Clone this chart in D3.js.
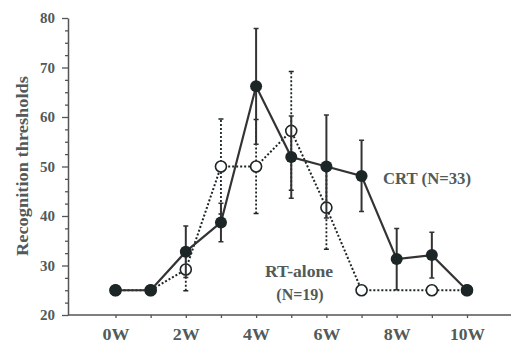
<!DOCTYPE html>
<html><head><meta charset="utf-8">
<script src="https://cdn.jsdelivr.net/npm/d3@7"></script>
<style>body{margin:0;background:#fff}svg{display:block}</style>
</head><body>
<svg id="c" width="511" height="343"></svg>
<script>
const weeks = [0,1,2,3,4,5,6,7,8,9,10];
const crtMean = [25,25,32.8,38.7,66.2,51.9,50.0,48.1,31.3,32.1,25];
const crtErr  = [0,0,5.2,3.9,11.7,8.3,10.4,7.2,6.2,4.6,0];
const rtMean  = [25,25,29.2,50,50,57.2,41.7,25,null,25,25];
const rtErr   = [0,0,4.3,9.6,9.5,12.0,8.4,0,0,0,0];
const xTickVals = [0,2,4,6,8,10];
const xTickLabels = ["0W","2W","4W","6W","8W","10W"];
const yTickVals = [20,30,40,50,60,70,80];

const svg = d3.select("#c");
const x = d3.scaleLinear().domain([0,10]).range([115.5,467]);
const y = d3.scaleLinear().domain([20,80]).range([315,18]);
const axisX0 = 68;
const txt = "#525a5a", ax = "#555", ink = "#1c2626";
const font = "'Liberation Serif','Times New Roman',serif";

// axes
const yAxis = svg.append("g").attr("transform",`translate(${axisX0},0)`)
  .call(d3.axisLeft(y).tickValues(yTickVals).tickSize(6).tickSizeOuter(0).tickPadding(7).tickFormat(d3.format("d")));
svg.append("g").attr("transform",`translate(${axisX0},0)`)
  .call(d3.axisLeft(y).tickValues(d3.range(20,80.01,2.5).filter(v=>v%10!==0)).tickSize(3).tickSizeOuter(0).tickFormat(""))
  .select(".domain").remove();
svg.append("line").attr("x1",axisX0).attr("x2",511).attr("y1",y(20)).attr("y2",y(20)).attr("stroke",ax).attr("stroke-width",1.5);
svg.append("g").attr("transform",`translate(0,${y(20)})`)
  .call(d3.axisBottom(x).tickValues(weeks).tickSize(3).tickSizeOuter(0).tickFormat(""))
  .select(".domain").remove();
const xLab = svg.append("g").attr("transform",`translate(0,${y(20)})`)
  .call(d3.axisBottom(x).tickValues(xTickVals).tickSize(0).tickPadding(14).tickFormat((d,i)=>xTickLabels[i]));
xLab.select(".domain").remove();
svg.selectAll(".tick line").attr("stroke",ax).attr("stroke-width",1.3);
yAxis.select(".domain").attr("stroke",ax).attr("stroke-width",1.5);
svg.selectAll(".tick text").attr("fill",txt).attr("font-family",font).attr("font-weight","bold").attr("font-size",15);
xLab.selectAll(".tick text").attr("font-size",16)
  .attr("textLength",(d,i)=>xTickLabels[i].length>2?35:27).attr("lengthAdjust","spacingAndGlyphs");

svg.append("text").attr("transform",`translate(22,166) rotate(-90)`).attr("text-anchor","middle")
  .attr("dominant-baseline","central")
  .attr("fill",txt).attr("font-family",font).attr("font-weight","bold").attr("font-size",16)
  .attr("textLength",180).attr("lengthAdjust","spacingAndGlyphs")
  .text("Recognition thresholds");

// RT-alone series (dotted)
const rtPts = weeks.map((w,i)=>({w,m:rtMean[i],e:rtErr[i]}));
const rtDef = rtPts.filter(d=>d.m!==null);
svg.append("g").selectAll("line").data(rtDef.filter(d=>d.e>0)).join("line")
  .attr("x1",d=>x(d.w)).attr("x2",d=>x(d.w)).attr("y1",d=>y(d.m-d.e)).attr("y2",d=>y(d.m+d.e))
  .attr("stroke",ink).attr("stroke-width",1.8).attr("stroke-dasharray","2,2");
svg.append("g").selectAll("path").data(rtDef.filter(d=>d.e>0)).join("path")
  .attr("d",d=>`M${x(d.w)-2.5},${y(d.m+d.e)}h5M${x(d.w)-2.5},${y(d.m-d.e)}h5`)
  .attr("stroke",ink).attr("stroke-width",1.5);
svg.append("path").datum(rtDef)
  .attr("d",d3.line().x(d=>x(d.w)).y(d=>y(d.m)))
  .attr("fill","none").attr("stroke",ink).attr("stroke-width",2).attr("stroke-dasharray","2,2");
svg.append("g").selectAll("circle").data(rtDef).join("circle")
  .attr("cx",d=>x(d.w)).attr("cy",d=>y(d.m)).attr("r",5.5)
  .attr("fill","#fff").attr("stroke",ink).attr("stroke-width",1.6);

// CRT series (solid)
const crtPts = weeks.map((w,i)=>({w,m:crtMean[i],e:crtErr[i]}));
svg.append("g").selectAll("line").data(crtPts.filter(d=>d.e>0)).join("line")
  .attr("x1",d=>x(d.w)).attr("x2",d=>x(d.w)).attr("y1",d=>y(d.m-d.e)).attr("y2",d=>y(d.m+d.e))
  .attr("stroke","#333").attr("stroke-width",2);
svg.append("g").selectAll("path").data(crtPts.filter(d=>d.e>0)).join("path")
  .attr("d",d=>`M${x(d.w)-2.5},${y(d.m+d.e)}h5M${x(d.w)-2.5},${y(d.m-d.e)}h5`)
  .attr("stroke","#333").attr("stroke-width",1.5);
svg.append("path").datum(crtPts)
  .attr("d",d3.line().x(d=>x(d.w)).y(d=>y(d.m)))
  .attr("fill","none").attr("stroke","#333").attr("stroke-width",2.2);
svg.append("g").selectAll("circle").data(crtPts).join("circle")
  .attr("cx",d=>x(d.w)).attr("cy",d=>y(d.m)).attr("r",6)
  .attr("fill",ink);

// labels
const lab = (t,xx,yy,len)=>{const s=svg.append("text").attr("x",xx).attr("y",yy).attr("text-anchor","middle")
  .attr("fill",txt).attr("font-family",font).attr("font-weight","bold").attr("font-size",16).text(t);
  if(len) s.attr("textLength",len).attr("lengthAdjust","spacingAndGlyphs"); return s;};
lab("CRT (N=33)",427,184,88);
lab("RT-alone",299,277,68);
lab("(N=19)",300,300,null);
</script>
</body></html>
